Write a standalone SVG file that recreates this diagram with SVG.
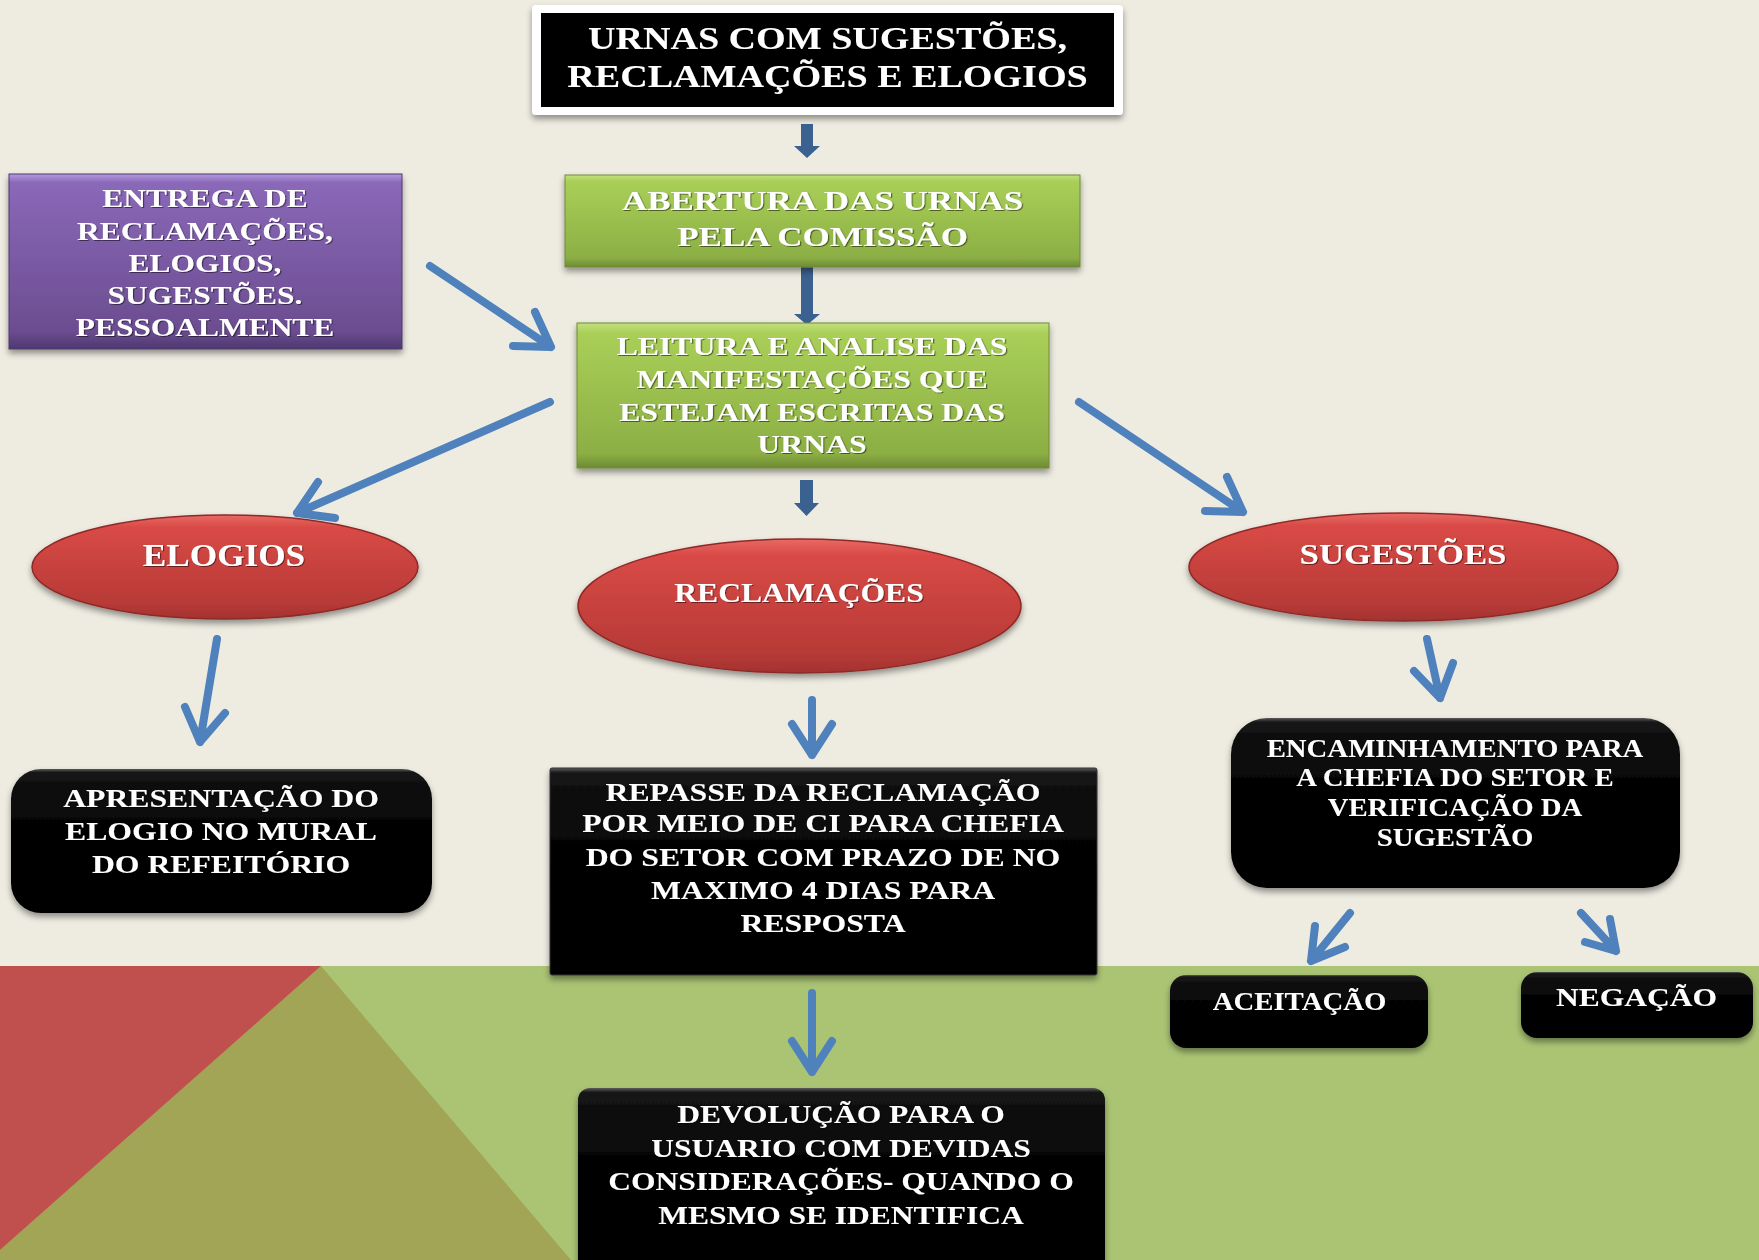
<svg xmlns="http://www.w3.org/2000/svg" width="1759" height="1260" viewBox="0 0 1759 1260">
<defs>
<style>
.t{font-family:"Liberation Serif","Times New Roman",serif;font-weight:bold;fill:#fff;text-anchor:middle}
.la{fill:none;stroke:#4f81bd;stroke-width:8;stroke-linecap:round;stroke-linejoin:round}
.ba{fill:#3b6190}
</style>
<filter id="sh" x="-10%" y="-10%" width="120%" height="135%"><feDropShadow dx="0" dy="4" stdDeviation="3" flood-color="#000" flood-opacity="0.4"/></filter>
<filter id="ts" x="-5%" y="-20%" width="110%" height="140%"><feDropShadow dx="1" dy="1" stdDeviation="0.6" flood-color="#000" flood-opacity="0.5"/></filter>
<linearGradient id="gGreen" x1="0" y1="0" x2="0" y2="1">
<stop offset="0" stop-color="#c2e07c"/><stop offset="0.07" stop-color="#a9cf58"/><stop offset="0.9" stop-color="#8caf44"/><stop offset="1" stop-color="#6e8a34"/>
</linearGradient>
<linearGradient id="gPurple" x1="0" y1="0" x2="0" y2="1">
<stop offset="0" stop-color="#b49ae0"/><stop offset="0.05" stop-color="#8a68b8"/><stop offset="0.9" stop-color="#6b4d90"/><stop offset="1" stop-color="#4e3870"/>
</linearGradient>
<linearGradient id="gRed" x1="0" y1="0" x2="0" y2="1">
<stop offset="0" stop-color="#e86a66"/><stop offset="0.12" stop-color="#d94a46"/><stop offset="0.85" stop-color="#b73a37"/><stop offset="1" stop-color="#a33230"/>
</linearGradient>
<linearGradient id="gBlack" x1="0" y1="0" x2="0" y2="1">
<stop offset="0" stop-color="#5a5a5a"/><stop offset="0.025" stop-color="#141414"/><stop offset="0.5" stop-color="#000"/><stop offset="1" stop-color="#050505"/>
</linearGradient>
</defs>

<!-- background -->
<rect x="0" y="0" width="1759" height="1260" fill="#eeece1"/>
<rect x="0" y="966" width="1759" height="294" fill="#aac474"/>
<polygon points="321,966 571,1260 0,1260 0,1250" fill="#a2a556"/>
<polygon points="0,966 321,966 0,1250" fill="#c0504d"/>

<!-- connectors -->
<g id="connectors">
<polygon class="ba" points="801,124 813,124 813,146 820,146 807,158 794,146 801,146"/>
<polygon class="ba" points="801,263 813,263 813,314 820,314 807,325 794,314 801,314"/>
<polygon class="ba" points="800,480 813,480 813,503 819,503 806.5,516 794,503 800,503"/>
<path class="la" d="M430,266 L551,347 M535,312 L551,347 L513,346"/>
<path class="la" d="M550,402 L297,513 M318,482 L297,513 L335,518"/>
<path class="la" d="M1079,402 L1243,512 M1227,477 L1243,512 L1205,511"/>
<path class="la" d="M217,639 L200,742 M225,713 L200,742 L185,707"/>
<path class="la" d="M812,700 L812,755 M832,724 L812,755 L792,724"/>
<path class="la" d="M812,993 L812,1072 M832,1041 L812,1072 L792,1041"/>
<path class="la" d="M1427,639 L1440,698 M1453,663 L1440,698 L1414,671"/>
<path class="la" d="M1350,913 L1311,961 M1345,947 L1311,961 L1315,926"/>
<path class="la" d="M1581,913 L1616,951 M1610,919 L1616,951 L1585,942"/>
</g>

<!-- nodes -->
<g id="n-urnas">
<rect x="532" y="5" width="591" height="110" rx="4" fill="#fff" filter="url(#sh)"/>
<rect x="541" y="13" width="573" height="94" fill="#000"/>
<g transform="translate(827.5,0) scale(1.19,1)" filter="url(#ts)">
<text class="t" x="0" y="49.5" font-size="32">URNAS COM SUGESTÕES,</text>
<text class="t" x="0" y="87" font-size="32">RECLAMAÇÕES E ELOGIOS</text>
</g>
</g>

<g id="n-abertura">
<rect x="565" y="175" width="515" height="92" fill="url(#gGreen)" stroke="#6f8b36" stroke-width="1" filter="url(#sh)"/>
<g transform="translate(822.5,0) scale(1.25,1)" filter="url(#ts)">
<text class="t" x="0" y="210" font-size="28">ABERTURA DAS URNAS</text>
<text class="t" x="0" y="246" font-size="28">PELA COMISSÃO</text>
</g>
</g>

<g id="n-entrega">
<rect x="9" y="174" width="393" height="175" fill="url(#gPurple)" stroke="#4e3870" stroke-width="1" filter="url(#sh)"/>
<g transform="translate(205,0) scale(1.21,1)" filter="url(#ts)">
<text class="t" x="0" y="207" font-size="26">ENTREGA DE</text>
<text class="t" x="0" y="240" font-size="26">RECLAMAÇÕES,</text>
<text class="t" x="0" y="272" font-size="26">ELOGIOS,</text>
<text class="t" x="0" y="304" font-size="26">SUGESTÕES.</text>
<text class="t" x="0" y="336" font-size="26">PESSOALMENTE</text>
</g>
</g>

<g id="n-leitura">
<rect x="577" y="323" width="472" height="145" fill="url(#gGreen)" stroke="#6f8b36" stroke-width="1" filter="url(#sh)"/>
<g transform="translate(812,0) scale(1.27,1)" filter="url(#ts)">
<text class="t" x="0" y="355" font-size="25">LEITURA E ANALISE DAS</text>
<text class="t" x="0" y="388" font-size="25">MANIFESTAÇÕES QUE</text>
<text class="t" x="0" y="421" font-size="25">ESTEJAM ESCRITAS DAS</text>
<text class="t" x="0" y="453" font-size="25">URNAS</text>
</g>
</g>

<g id="n-elogios">
<ellipse cx="225" cy="567" rx="193" ry="52" fill="url(#gRed)" stroke="#8e2a28" stroke-width="1.5" filter="url(#sh)"/>
<g transform="translate(224,0) scale(1.1,1)" filter="url(#ts)">
<text class="t" x="0" y="566" font-size="32">ELOGIOS</text>
</g>
</g>

<g id="n-reclamacoes">
<ellipse cx="799.5" cy="606" rx="221.5" ry="67" fill="url(#gRed)" stroke="#8e2a28" stroke-width="1.5" filter="url(#sh)"/>
<g transform="translate(799,0) scale(1.13,1)" filter="url(#ts)">
<text class="t" x="0" y="602" font-size="28">RECLAMAÇÕES</text>
</g>
</g>

<g id="n-sugestoes">
<ellipse cx="1403.5" cy="567" rx="214.5" ry="54" fill="url(#gRed)" stroke="#8e2a28" stroke-width="1.5" filter="url(#sh)"/>
<g transform="translate(1403,0) scale(1.16,1)" filter="url(#ts)">
<text class="t" x="0" y="564.5" font-size="30">SUGESTÕES</text>
</g>
</g>

<g id="n-apresentacao">
<rect x="11" y="769" width="421" height="144" rx="30" fill="url(#gBlack)" filter="url(#sh)"/>
<g transform="translate(221,0) scale(1.22,1)" filter="url(#ts)">
<text class="t" x="0" y="807" font-size="26">APRESENTAÇÃO DO</text>
<text class="t" x="0" y="840" font-size="26">ELOGIO NO MURAL</text>
<text class="t" x="0" y="873" font-size="26">DO REFEITÓRIO</text>
</g>
</g>

<g id="n-repasse">
<rect x="550" y="768" width="547" height="207" rx="2" fill="url(#gBlack)" stroke="#333" stroke-width="1" filter="url(#sh)"/>
<g transform="translate(823,0) scale(1.27,1)" filter="url(#ts)">
<text class="t" x="0" y="801" font-size="25">REPASSE DA RECLAMAÇÃO</text>
<text class="t" x="0" y="832.5" font-size="25">POR MEIO DE CI PARA CHEFIA</text>
<text class="t" x="0" y="866" font-size="25">DO SETOR COM PRAZO DE NO</text>
<text class="t" x="0" y="899" font-size="25">MAXIMO 4 DIAS PARA</text>
<text class="t" x="0" y="932" font-size="25">RESPOSTA</text>
</g>
</g>

<g id="n-encaminhamento">
<rect x="1231" y="718" width="449" height="170" rx="36" fill="url(#gBlack)" filter="url(#sh)"/>
<g transform="translate(1455,0) scale(1.15,1)" filter="url(#ts)">
<text class="t" x="0" y="757" font-size="25">ENCAMINHAMENTO PARA</text>
<text class="t" x="0" y="786.5" font-size="25">A CHEFIA DO SETOR E</text>
<text class="t" x="0" y="816" font-size="25">VERIFICAÇÃO DA</text>
<text class="t" x="0" y="846" font-size="25">SUGESTÃO</text>
</g>
</g>

<g id="n-aceitacao">
<rect x="1170" y="975" width="258" height="73" rx="16" fill="url(#gBlack)" filter="url(#sh)"/>
<g transform="translate(1299.5,0) scale(1.15,1)" filter="url(#ts)">
<text class="t" x="0" y="1010" font-size="25">ACEITAÇÃO</text>
</g>
</g>

<g id="n-negacao">
<rect x="1521" y="972" width="232" height="66" rx="16" fill="url(#gBlack)" filter="url(#sh)"/>
<g transform="translate(1636.5,0) scale(1.26,1)" filter="url(#ts)">
<text class="t" x="0" y="1006" font-size="25">NEGAÇÃO</text>
</g>
</g>

<g id="n-devolucao">
<rect x="578" y="1088" width="527" height="190" rx="12" fill="url(#gBlack)" filter="url(#sh)"/>
<g transform="translate(841,0) scale(1.26,1)" filter="url(#ts)">
<text class="t" x="0" y="1123.5" font-size="25">DEVOLUÇÃO PARA O</text>
<text class="t" x="0" y="1157" font-size="25">USUARIO COM DEVIDAS</text>
<text class="t" x="0" y="1190.5" font-size="25">CONSIDERAÇÕES- QUANDO O</text>
<text class="t" x="0" y="1224" font-size="25">MESMO SE IDENTIFICA</text>
</g>
</g>
</svg>
